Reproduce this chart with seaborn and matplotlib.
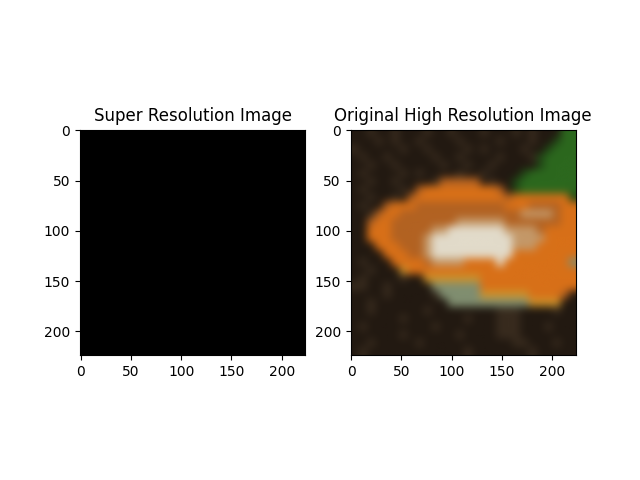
import matplotlib
matplotlib.use("Agg")
import matplotlib.pyplot as plt
import seaborn as sns
import numpy as np

# coarse colour map of the 224x224 photo, read cell by cell (28 x 28 cells of 8 px)
palette = {
    ".": (34, 25, 17),
    ",": (56, 43, 30),
    "g": (32, 72, 22),
    "G": (44, 104, 30),
    "o": (178, 98, 34),
    "O": (216, 112, 24),
    "Y": (204, 146, 44),
    "T": (196, 152, 104),
    "W": (226, 219, 202),
    "U": (128, 142, 112),
}
photo_rows = [
    "..,..,...,..,...,...,.,...GG",
    "...,.,..,....,....,...,..gGG",
    ",.....,..,....,.,....,..gGGG",
    ".,..,.....,..,....,...,gGGGG",
    "..,..,.....,..,..,.....gGGGG",
    ".,....,.,....,..,....gGGGGGG",
    "..,..,....,ooooo.,..gGGGGGGG",
    ".,....,.oOOOOOOOOOo.gGGGGGGG",
    "..,..,.oOOOOOOOOOOOoOOOOOOOg",
    ".,..oOOOoooooooooooOOOooooOO",
    "..,oOOoooooooooooooooTTTToOO",
    "..oOOooooooooTTTTTToooooooOO",
    "..OOOoooooTTWWWWWWWTTTToOOOO",
    "..OOOooooTWWWWWWWWWWTTTTOOOO",
    "...OOOoooTWWWWWWWWWWTTTOOOOO",
    "....OOOooTWWWWWWWWWWOOOOOOOO",
    ".,...OOOOoTTTTOOOOWOOOOOOOOU",
    "..,...YOOOOOOOOOOOOOOOOOOOOO",
    ".,....,..YYYYYYYOOOOOOOOOOOO",
    ",,..,.....UUUUUUOOOOOOOOOOOO",
    "....,.....,UUUUUYYYYYYOOOOo.",
    "..,.........UUUUUUUUUUYYYY..",
    "..,......,........,,,....,..",
    "......,.......,...,,,.......",
    ".,........,.......,,,...,...",
    "......,......,....,,,.......",
    "..,.....,...........,,...,..",
    ".,............,.......,.....",
]
image_size = 224

sr_image = np.zeros((image_size, image_size, 3))
hr_image = np.array([[palette[c] for c in row] for row in photo_rows]) / 255.0

fig, axes = plt.subplots(1, 2, figsize=(6.4, 4.8), dpi=100)
sns.despine(fig=fig, top=False, right=False)

axes[0].imshow(sr_image)
axes[0].set_title("Super Resolution Image")

ext = (-0.5, image_size - 0.5, image_size - 0.5, -0.5)
axes[1].imshow(hr_image, extent=ext, interpolation="bicubic")
axes[1].set_title("Original High Resolution Image")

for ax in axes:
    ax.set_xticks([0, 50, 100, 150, 200])
    ax.set_yticks([0, 50, 100, 150, 200])

plt.savefig("out.png")
plt.close()
